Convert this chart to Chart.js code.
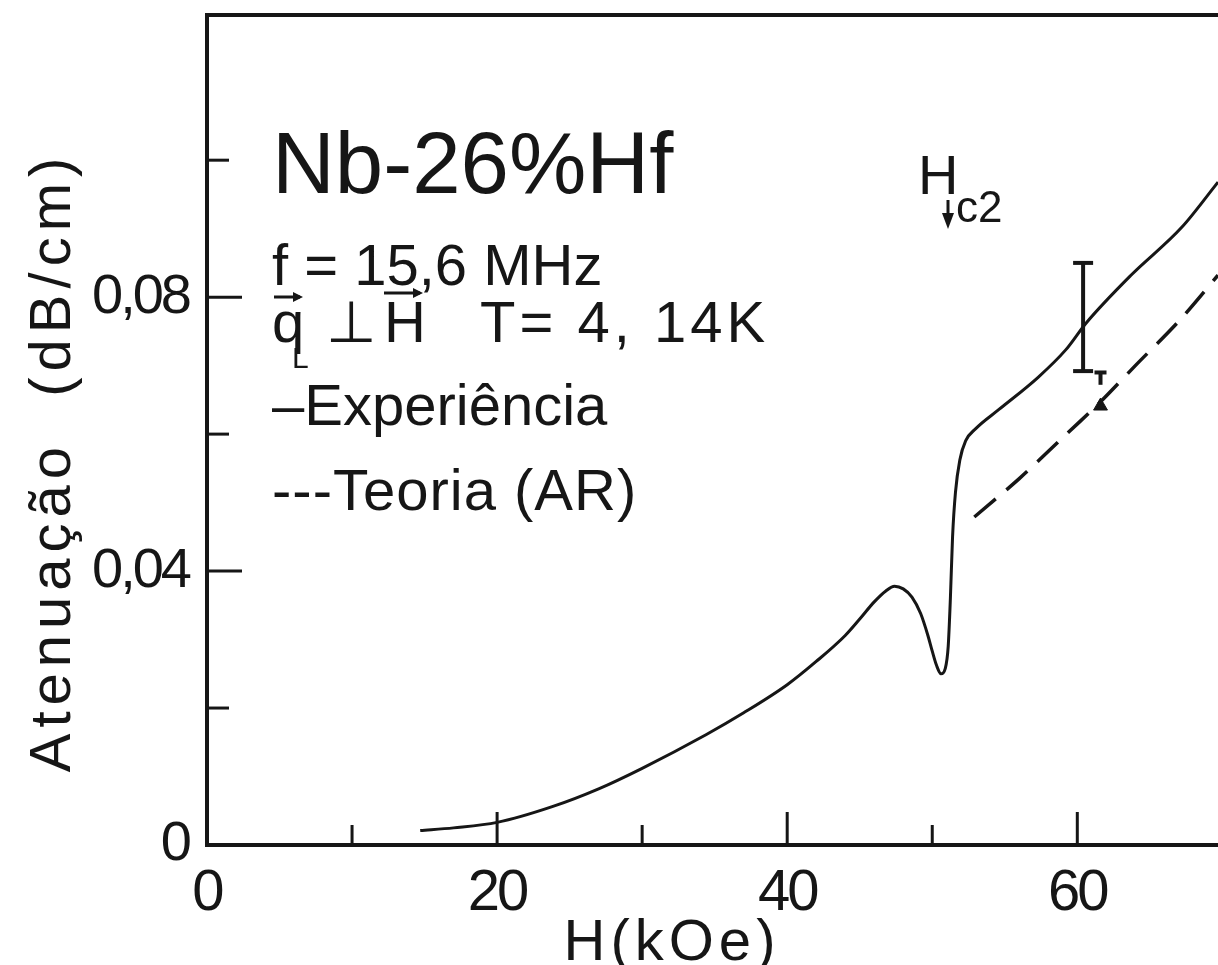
<!DOCTYPE html>
<html>
<head>
<meta charset="utf-8">
<script src="https://cdn.jsdelivr.net/npm/chart.js@4.4.0/dist/chart.umd.min.js"></script>
<style>
  html, body { margin: 0; padding: 0; background: #fff; }
  #wrap { width: 1218px; height: 965px; }
</style>
</head>
<body>
<div id="wrap"><canvas id="chart" width="1218" height="965"></canvas></div>
<script>
// H (kOe) and attenuation (dB/cm)
const expField = [14.7, 17, 20, 23.8, 27, 30, 34.4, 37, 40, 42, 44, 45, 46, 46.8, 47.4, 48.0, 48.6, 49.2, 49.7, 50.0, 50.3, 50.6, 50.9, 51.1, 51.25, 51.4, 51.6, 51.9, 52.3, 53, 54.6, 57.3, 59.2, 60.6, 63.7, 67.2, 69.7];
const expAtten = [0.0021, 0.0025, 0.0033, 0.0056, 0.0082, 0.0112, 0.0161, 0.0193, 0.0234, 0.0268, 0.0306, 0.0330, 0.0355, 0.0371, 0.0378, 0.0374, 0.0362, 0.0338, 0.0306, 0.0283, 0.0262, 0.0250, 0.0258, 0.0290, 0.0360, 0.0450, 0.0515, 0.0562, 0.0590, 0.0608, 0.0636, 0.0683, 0.0723, 0.0762, 0.0832, 0.0902, 0.0968];
const theoField = [52.9, 56, 58.8, 61.5, 64, 67, 69.7];
const theoAtten = [0.0479, 0.0535, 0.0591, 0.0645, 0.0700, 0.0765, 0.0832];

// error bar on the experiment, small cap + mark on the theory
const errField = [60.4];
const errLow = [0.0692];
const errHigh = [0.0850];
const capField = [61.6];
const capLow = [0.0672];
const capHigh = [0.0690];
const markField = [61.6];
const markAtten = [0.0641];

const xLabelled = [0, 20, 40, 60];
const yLabelled = [0, 4, 8]; // hundredths
const xMax = 69.7;
const yMax = 0.1212;

const ink = '#161616';
const textFont = "'Liberation Sans', 'DejaVu Sans', sans-serif";

const pts = (xs, ys) => xs.map((v, i) => ({ x: v, y: ys[i] }));

// drop the label padding chart.js reserves, so the plot box lands where it should
function fixBox(size) {
    return s => {
        if (s.isHorizontal()) s.height = size; else s.width = size;
        s.paddingTop = s.paddingBottom = s.paddingLeft = s.paddingRight = 0;
    };
}

function seg(ctx, x1, y1, x2, y2) {
    ctx.beginPath();
    ctx.moveTo(x1, y1);
    ctx.lineTo(x2, y2);
    ctx.stroke();
}

function vecArrow(ctx, x1, x2, y) {
    seg(ctx, x1, y, x2, y);
    ctx.beginPath();
    ctx.moveTo(x2 + 3, y);
    ctx.lineTo(x2 - 7, y - 5);
    ctx.lineTo(x2 - 7, y + 5);
    ctx.closePath();
    ctx.fill();
}

// narrower tick digits, like the hand lettering
const tightLabels = {
    id: 'tightLabels',
    beforeDraw(chart) { chart.ctx.letterSpacing = '-3px'; },
    afterDraw(chart) { chart.ctx.letterSpacing = '0px'; }
};

// inward ticks, error bars and the written notes
const decor = {
    id: 'decor',
    afterDatasetsDraw(chart) {
        const { ctx, chartArea, scales: { x, y } } = chart;
        ctx.save();
        ctx.strokeStyle = ink;
        ctx.fillStyle = ink;
        ctx.lineWidth = 3;

        x.ticks.forEach(t => {
            if (t.value === 0) return;
            const px = x.getPixelForValue(t.value);
            const len = xLabelled.includes(t.value) ? 33 : 20;
            seg(ctx, px, chartArea.bottom, px, chartArea.bottom - len);
        });
        y.ticks.forEach(t => {
            const k = Math.round(t.value * 100);
            if (k === 0 || k > 10) return;
            const py = y.getPixelForValue(t.value);
            const len = yLabelled.includes(k) ? 35 : 22;
            seg(ctx, chartArea.left, py, chartArea.left + len, py);
        });

        ctx.lineWidth = 4;
        errField.forEach((h, i) => {
            const px = x.getPixelForValue(h);
            const top = y.getPixelForValue(errHigh[i]);
            const bot = y.getPixelForValue(errLow[i]);
            seg(ctx, px, top, px, bot);
            seg(ctx, px - 10, top, px + 10, top);
            seg(ctx, px - 10, bot, px + 10, bot);
        });
        capField.forEach((h, i) => {
            const px = x.getPixelForValue(h);
            const top = y.getPixelForValue(capHigh[i]);
            const bot = y.getPixelForValue(capLow[i]);
            seg(ctx, px, top, px, bot);
            seg(ctx, px - 6, top, px + 6, top);
        });

        // notes
        ctx.lineWidth = 3;
        ctx.textBaseline = 'alphabetic';
        ctx.textAlign = 'left';
        ctx.font = `87px ${textFont}`;
        ctx.letterSpacing = '0px';
        ctx.fillText('Nb-26%Hf', 272, 193);

        ctx.font = `58px ${textFont}`;
        ctx.fillText('f = 15,6 MHz', 272, 285);

        ctx.fillText('q', 272, 342);
        vecArrow(ctx, 274, 300, 297);
        ctx.font = `30px ${textFont}`;
        ctx.fillText('L', 292, 368);
        ctx.font = `58px ${textFont}`;
        ctx.fillText('\u22A5', 326, 342);
        ctx.fillText('H', 384, 342);
        vecArrow(ctx, 384, 420, 293);
        ctx.letterSpacing = '4px';
        ctx.fillText('T= 4, 14K', 480, 342);

        ctx.letterSpacing = '0px';
        ctx.fillText('\u2013Experi\u00eancia', 272, 425);
        ctx.letterSpacing = '1px';
        ctx.fillText('---Teoria (AR)', 272, 510);

        // H_c2 marker
        ctx.letterSpacing = '0px';
        ctx.font = `56px ${textFont}`;
        ctx.fillText('H', 918, 194);
        ctx.font = `44px ${textFont}`;
        ctx.fillText('c2', 956, 222);
        ctx.lineWidth = 3;
        seg(ctx, 948, 200, 948, 215);
        ctx.beginPath();
        ctx.moveTo(942, 213);
        ctx.lineTo(954, 213);
        ctx.lineTo(948, 229);
        ctx.closePath();
        ctx.fill();

        // axis titles
        ctx.font = `58px ${textFont}`;
        ctx.letterSpacing = '5px';
        ctx.textAlign = 'center';
        ctx.fillText('H(kOe)', 672, 960);
        ctx.translate(70, 462);
        ctx.rotate(-Math.PI / 2);
        ctx.letterSpacing = '6px';
        ctx.fillText('Atenua\u00e7\u00e3o  (dB/cm)', 0, 0);
        ctx.restore();
    }
};

const chart = new Chart(document.getElementById('chart'), {
    type: 'line',
    data: {
        datasets: [{
            label: 'Experiência',
            data: pts(expField, expAtten),
            borderColor: ink,
            borderWidth: 3,
            pointRadius: 0,
            cubicInterpolationMode: 'monotone',
            fill: false
        }, {
            label: 'Teoria (AR)',
            data: pts(theoField, theoAtten),
            borderColor: ink,
            borderWidth: 3.5,
            borderDash: [28, 14],
            pointRadius: 0,
            tension: 0.3,
            fill: false
        }, {
            label: 'mark',
            data: pts(markField, markAtten),
            showLine: false,
            pointStyle: 'triangle',
            pointRadius: 8,
            backgroundColor: ink,
            borderColor: ink
        }]
    },
    options: {
        responsive: false,
        animation: false,
        layout: { padding: 0, autoPadding: false },
        plugins: { legend: { display: false }, tooltip: { enabled: false } },
        scales: {
            x: {
                type: 'linear',
                position: 'bottom',
                min: 0,
                max: xMax,
                afterFit: fixBox(120),
                grid: { display: false },
                border: { display: true, color: ink, width: 4 },
                ticks: {
                    stepSize: 10,
                    includeBounds: false,
                    autoSkip: false,
                    maxRotation: 0,
                    padding: 6,
                    color: ink,
                    font: { family: textFont, size: 58 },
                    callback: v => xLabelled.includes(v) ? String(v) : ''
                }
            },
            x2: {
                type: 'linear',
                position: 'top',
                min: 0,
                max: xMax,
                afterFit: fixBox(15),
                grid: { display: false },
                border: { display: true, color: ink, width: 4 },
                ticks: { display: false }
            },
            y: {
                type: 'linear',
                min: 0,
                max: yMax,
                afterFit: fixBox(207),
                grid: { display: false },
                border: { display: true, color: ink, width: 4 },
                ticks: {
                    stepSize: 0.02,
                    includeBounds: false,
                    autoSkip: false,
                    padding: 10,
                    color: ink,
                    font: { family: textFont, size: 56 },
                    callback: v => {
                        const k = Math.round(v * 100);
                        if (k === 0) return '0';
                        return yLabelled.includes(k) ? '0,0' + k : '';
                    }
                }
            }
        }
    },
    plugins: [tightLabels, decor]
});
</script>
</body>
</html>
